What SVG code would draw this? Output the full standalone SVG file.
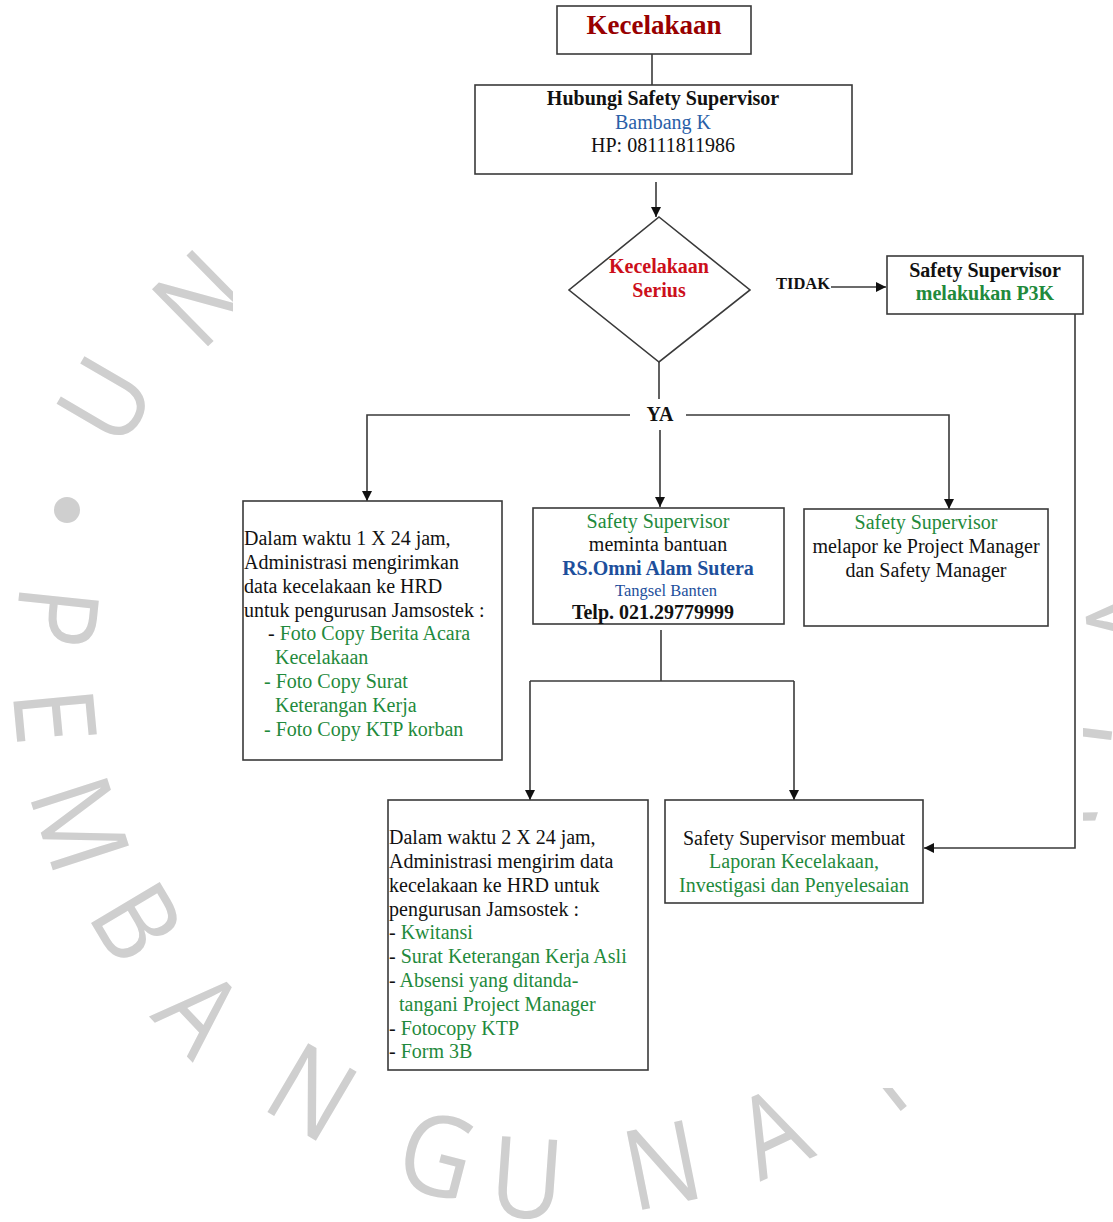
<svg xmlns="http://www.w3.org/2000/svg" width="1113" height="1222" viewBox="0 0 1113 1222">
<style>
.wm{font-family:"Open Sans","DejaVu Sans",sans-serif;font-size:112px;fill:#cfcfcf;text-anchor:middle}
.box{fill:#fff;stroke:#3a3a3a;stroke-width:1.6}
.t{font-family:"Liberation Serif","Times New Roman",serif;font-size:20px;fill:#111}
.c{text-anchor:middle}
.b{font-weight:bold}
.g{fill:#1f8a3c}
.bl{fill:#2a5fa8}
.db{fill:#1d4f9c}
.conn{fill:none;stroke:#3a3a3a;stroke-width:1.6}
</style>
<defs>
<marker id="ah" markerUnits="userSpaceOnUse" markerWidth="11" markerHeight="10" refX="10" refY="5" orient="auto">
<path d="M0,0 L10,5 L0,10 z" fill="#111"/>
</marker>
</defs>
<rect width="1113" height="1222" fill="#fff"/>
<g id="watermark">
<text class="wm" transform="translate(105,400) rotate(-59.7) scale(0.9,1)" y="40">U</text>
<text class="wm" transform="translate(200,298) rotate(-44.5) scale(0.9,1)" y="40">N</text>
<circle cx="67" cy="510" r="13" fill="#cfcfcf"/>
<text class="wm" transform="translate(57,617) rotate(95.8) scale(0.9,1)" y="40">P</text>
<text class="wm" transform="translate(55,716) rotate(84.6) scale(0.9,1)" y="40">E</text>
<text class="wm" transform="translate(80,824) rotate(72.1) scale(0.9,1)" y="40">M</text>
<text class="wm" transform="translate(137,922) rotate(59.2) scale(0.9,1)" y="40">B</text>
<text class="wm" transform="translate(200,1012) rotate(46.5) scale(0.9,1)" y="40">A</text>
<text class="wm" transform="translate(312,1092) rotate(30.6) scale(0.9,1)" y="40">N</text>
<text class="wm" transform="translate(437,1155) rotate(14.5) scale(0.9,1)" y="40">G</text>
<text class="wm" transform="translate(527,1178) rotate(4) scale(0.9,1)" y="40">U</text>
<text class="wm" transform="translate(662,1165) rotate(-11.3) scale(0.9,1)" y="40">N</text>
<text class="wm" transform="translate(772,1132) rotate(-25) scale(0.9,1)" y="40">A</text>
<text class="wm" transform="translate(898,1062) rotate(-38.4) scale(0.9,1)" y="40">N</text>
<text class="wm" transform="translate(1050,830) rotate(-72) scale(0.9,1)" y="40">A</text>
<text class="wm" transform="translate(1072,731) rotate(-83) scale(0.9,1)" y="40">Y</text>
<text class="wm" transform="translate(1126,617) rotate(-95) scale(0.9,1)" y="40">A</text>
<rect x="233" y="0" width="850" height="1043" fill="#fff"/>
<rect x="700" y="1043" width="383" height="45" fill="#fff"/>
</g>
<g id="connectors">
<path class="conn" d="M652,38 V85"/>
<path class="conn" d="M656,182 V217" marker-end="url(#ah)"/>
<path class="conn" d="M831,287 H886" marker-end="url(#ah)"/>
<path class="conn" d="M1075,314 V848 H924" marker-end="url(#ah)"/>
<path class="conn" d="M659,362 V399"/>
<path class="conn" d="M630,415 H367 V501" marker-end="url(#ah)"/>
<path class="conn" d="M686,415 H949 V509" marker-end="url(#ah)"/>
<path class="conn" d="M660,430 V507" marker-end="url(#ah)"/>
<path class="conn" d="M661,630 V681"/>
<path class="conn" d="M530,681 H794"/>
<path class="conn" d="M530,681 V800" marker-end="url(#ah)"/>
<path class="conn" d="M794,681 V800" marker-end="url(#ah)"/>
</g>
<g id="n-kecelakaan">
<rect class="box" x="557" y="6" width="194" height="48"/>
<text class="t c b" x="654" y="34" style="font-size:27px;fill:#980000">Kecelakaan</text>
</g>
<g id="n-hubungi">
<rect class="box" x="475" y="85" width="377" height="89"/>
<text class="t c b" x="663" y="105">Hubungi Safety Supervisor</text>
<text class="t c bl" x="663" y="129">Bambang K</text>
<text class="t c" x="663" y="152">HP: 08111811986</text>
</g>
<g id="n-serius">
<polygon class="box" points="659,217 750,290 659,362 569,290"/>
<text class="t c b" x="659" y="273" style="fill:#cc0f1a">Kecelakaan</text>
<text class="t c b" x="659" y="297" style="fill:#cc0f1a">Serius</text>
</g>
<g id="l-tidak">
<text class="t b" x="776" y="289" style="font-size:16.5px">TIDAK</text>
</g>
<g id="n-p3k">
<rect class="box" x="887" y="256" width="196" height="58"/>
<text class="t c b" x="985" y="277">Safety Supervisor</text>
<text class="t c b g" x="985" y="300">melakukan P3K</text>
</g>
<g id="l-ya">
<text class="t c b" x="660" y="421">YA</text>
</g>
<g id="n-1x24">
<rect class="box" x="243" y="501" width="259" height="259"/>
<text class="t" x="244" y="545">Dalam waktu 1 X 24 jam,</text>
<text class="t" x="244" y="569">Administrasi mengirimkan</text>
<text class="t" x="244" y="593">data kecelakaan ke HRD</text>
<text class="t" x="244" y="617">untuk pengurusan Jamsostek :</text>
<text class="t" x="268" y="640">- <tspan class="g">Foto Copy Berita Acara</tspan></text>
<text class="t g" x="275" y="664">Kecelakaan</text>
<text class="t g" x="264" y="688">- Foto Copy Surat</text>
<text class="t g" x="275" y="712">Keterangan Kerja</text>
<text class="t g" x="264" y="736">- Foto Copy KTP korban</text>
</g>
<g id="n-rs">
<rect class="box" x="533" y="508" width="251" height="116"/>
<text class="t c g" x="658" y="528">Safety Supervisor</text>
<text class="t c" x="658" y="551">meminta bantuan</text>
<text class="t c b db" x="658" y="575">RS.Omni Alam Sutera</text>
<text class="t c db" x="666" y="596" style="font-size:16.5px">Tangsel Banten</text>
<text class="t c b" x="653" y="619">Telp. 021.29779999</text>
</g>
<g id="n-lapor">
<rect class="box" x="804" y="509" width="244" height="117"/>
<text class="t c g" x="926" y="529">Safety Supervisor</text>
<text class="t c" x="926" y="553">melapor ke Project Manager</text>
<text class="t c" x="926" y="577">dan Safety Manager</text>
</g>
<g id="n-2x24">
<rect class="box" x="388" y="800" width="260" height="270"/>
<text class="t" x="389" y="844">Dalam waktu 2 X 24 jam,</text>
<text class="t" x="389" y="868">Administrasi mengirim data</text>
<text class="t" x="389" y="892">kecelakaan ke HRD untuk</text>
<text class="t" x="389" y="916">pengurusan Jamsostek :</text>
<text class="t" x="389" y="939">- <tspan class="g">Kwitansi</tspan></text>
<text class="t" x="389" y="963">- <tspan class="g">Surat Keterangan Kerja Asli</tspan></text>
<text class="t" x="389" y="987">- <tspan class="g">Absensi yang ditanda-</tspan></text>
<text class="t g" x="399" y="1011">tangani Project Manager</text>
<text class="t" x="389" y="1035">- <tspan class="g">Fotocopy KTP</tspan></text>
<text class="t" x="389" y="1058">- <tspan class="g">Form 3B</tspan></text>
</g>
<g id="n-laporan">
<rect class="box" x="665" y="800" width="258" height="103"/>
<text class="t c" x="794" y="845">Safety Supervisor membuat</text>
<text class="t c g" x="794" y="868">Laporan Kecelakaan,</text>
<text class="t c g" x="794" y="892">Investigasi dan Penyelesaian</text>
</g>
</svg>
